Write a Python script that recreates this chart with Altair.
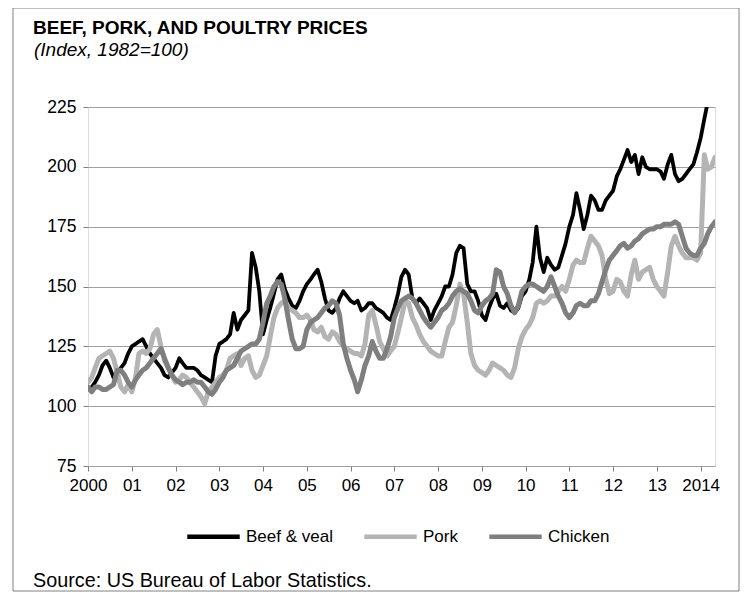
import altair as alt
import pandas as pd

# Monthly index values, Jan 2000 - May 2014 (1982=100)
months = pd.date_range("2000-01-01", periods=173, freq="MS").strftime("%Y-%m-%dT00:00:00").tolist()

beef = [
    107, 108, 110, 113, 117, 119, 116, 112, 113, 116, 118, 122,
    125, 126, 127, 128, 125, 122, 120, 118, 116, 113, 112, 114,
    116, 120, 118, 116, 116, 116, 115, 113, 112, 111, 110, 121,
    126, 127, 128, 130, 139, 132, 136, 138, 140, 164, 158, 148,
    130, 136, 141, 147, 153, 155, 149, 145, 142, 141, 144, 148,
    151, 153, 155, 157, 152, 145, 140, 139, 141, 145, 148, 146,
    144, 143, 144, 140, 141, 143, 143, 141, 140, 139, 137, 136,
    141, 147, 154, 157, 155, 145, 143, 145, 143, 141, 136, 140,
    143, 146, 150, 150, 155, 164, 167, 166, 151, 148, 148, 144,
    138, 136, 141, 145, 147, 142, 141, 143, 140, 139, 141, 146,
    148, 153, 160, 175, 162, 156, 162, 159, 157, 158, 163, 168,
    175, 180, 189, 182, 174, 180, 188, 186, 182, 182, 186, 188,
    190, 196, 199, 203, 207, 202, 205, 197, 204, 200, 199, 199,
    199, 198, 195, 201, 205, 197, 194, 195, 197, 199, 201, 206,
    212, 220, 227, 232, 236,
]

pork = [
    110, 112, 116, 120, 121, 122, 123, 120, 114, 108, 106, 109,
    106, 112, 122, 123, 122, 124, 130, 132, 125, 119, 116, 113,
    110, 111, 113, 112, 110, 108, 106, 104, 101, 106, 108, 110,
    112, 113, 115, 120, 121, 122, 117, 120, 121, 115, 112, 113,
    117, 121, 129, 137, 141, 143, 144, 141, 140, 139, 137, 137,
    138, 136, 132, 131, 133, 129, 128, 131, 130, 127, 125, 124,
    123, 122, 122, 121, 126, 138, 140, 134, 127, 124, 121, 123,
    125, 131, 137, 144, 143, 137, 134, 130, 127, 125, 123, 122,
    121, 121, 127, 133, 135, 142, 151, 147, 135, 122, 117, 115,
    114, 113, 115, 118, 117, 116, 115, 113, 112, 116, 124, 129,
    132, 134, 137, 143, 144, 143, 144, 146, 146, 148, 150, 148,
    153, 159, 161, 160, 160, 166, 171, 169, 167, 163, 153, 147,
    148, 153, 152, 148, 146, 155, 161, 153, 156, 157, 158, 153,
    150, 148, 146, 156, 167, 171, 167, 164, 162, 162, 162, 161,
    164, 205, 199, 200, 204,
]

chicken = [
    108, 106, 108, 108, 107, 107, 108, 109, 115, 115, 113, 110,
    108, 111, 113, 115, 116, 118, 120, 122, 124, 120, 116, 113,
    111, 110, 109, 110, 110, 111, 110, 110, 108, 106, 105, 107,
    110, 112, 115, 116, 117, 120, 123, 124, 125, 126, 126, 128,
    135, 143, 146, 150, 152, 151, 145, 136, 128, 124, 124, 125,
    132, 135, 136, 137, 139, 141, 142, 144, 143, 138, 126, 120,
    115, 111, 106, 111, 117, 121, 127, 123, 120, 120, 124, 129,
    137, 141, 144, 145, 146, 145, 143, 140, 137, 135, 133, 135,
    137, 140, 141, 143, 146, 148, 149, 148, 147, 144, 140, 139,
    142, 144, 145, 147, 157, 156, 150, 147, 142, 139, 142, 148,
    150, 151, 151, 150, 149, 148, 150, 154, 150, 146, 143, 139,
    137, 139, 142, 143, 142, 142, 144, 144, 147, 152, 157, 161,
    163, 165, 167, 168, 166, 167, 169, 170, 172, 173, 174, 174,
    175, 175, 176, 176, 176, 177, 176, 171, 166, 164, 163, 163,
    166, 168, 172, 175, 177,
]

series_names = ["Beef & veal", "Pork", "Chicken"]
series_colors = ["#000000", "#b4b4b4", "#7f7f7f"]
series_widths = [3.8, 5, 5]
series_values = [beef, pork, chicken]

y_ticks = [75, 100, 125, 150, 175, 200, 225]
year_ticks = list(range(2000, 2015))

title_text = "BEEF, PORK, AND POULTRY PRICES"
subtitle_text = "(Index, 1982=100)"
source_text = "Source: US Bureau of Labor Statistics."

FONT = "Liberation Sans"
W, H = 627, 359

color_scale = alt.Scale(domain=series_names, range=series_colors)
x_scale = alt.Scale(domain=[alt.DateTime(year=2000, month=1, date=1),
                            alt.DateTime(year=2014, month=5, date=1)])
y_scale = alt.Scale(domain=[75, 225], nice=False, zero=False)

x_axis = alt.Axis(
    title=None,
    values=[alt.DateTime(year=y, month=1, date=1) for y in year_ticks],
    labelExpr="(year(datum.value) == 2000 || year(datum.value) == 2014) ? timeFormat(datum.value, '%Y') : timeFormat(datum.value, '%y')",
    grid=False, domain=False, ticks=True, tickSize=5, tickColor="#808080",
    labelFont=FONT, labelFontSize=17, labelColor="#000000", labelPadding=6,
    labelFlush=False, labelOverlap=False,
)
y_axis = alt.Axis(
    title=None, values=y_ticks, grid=True, gridColor="#a0a0a0", gridWidth=1,
    domain=False, ticks=True, tickSize=5, tickColor="#808080",
    labelFont=FONT, labelFontSize=17.5, labelColor="#000000", labelPadding=7,
)
legend = alt.Legend(
    title=None, orient="none", legendX=97, legendY=401, direction="horizontal",
    symbolType="stroke", symbolSize=2750, symbolStrokeWidth=4.5,
    labelFont=FONT, labelFontSize=17, labelColor="#000000", labelOffset=4,
    columnPadding=22,
)

layers = []
for name, vals, w in zip(series_names, series_values, series_widths):
    df = pd.DataFrame({"date": months, "value": vals, "series": name})
    layers.append(
        alt.Chart(df).mark_line(strokeWidth=w, clip=True, strokeJoin="round", strokeCap="round").encode(
            x=alt.X("date:T", scale=x_scale, axis=x_axis),
            y=alt.Y("value:Q", scale=y_scale, axis=y_axis),
            color=alt.Color("series:N", scale=color_scale, legend=legend),
        )
    )

title = alt.Chart(pd.DataFrame({"t": [title_text]})).mark_text(
    align="left", baseline="alphabetic", font=FONT, fontSize=19, fontWeight="bold", color="#000000"
).encode(text="t:N", x=alt.value(-55), y=alt.value(-73))
subtitle = alt.Chart(pd.DataFrame({"t": [subtitle_text]})).mark_text(
    align="left", baseline="alphabetic", font=FONT, fontSize=19, fontStyle="italic", color="#000000"
).encode(text="t:N", x=alt.value(-54), y=alt.value(-51))
source = alt.Chart(pd.DataFrame({"t": [source_text]})).mark_text(
    align="left", baseline="alphabetic", font=FONT, fontSize=19.8, color="#000000"
).encode(text="t:N", x=alt.value(-55), y=alt.value(480))
frame = alt.Chart(pd.DataFrame({"t": [0]})).mark_rect(
    fill=None, fillOpacity=0, stroke="#808080", strokeWidth=1
).encode(x=alt.value(-75), x2=alt.value(W + 24), y=alt.value(-99), y2=alt.value(H + 125))

chart = alt.layer(frame, *layers, title, subtitle, source).properties(
    width=W, height=H,
    padding={"left": 80, "top": 99, "right": 25, "bottom": 126},
    autosize=alt.AutoSizeParams(type="none"),
).configure_view(
    stroke="#404040", strokeWidth=2
).configure(background="#ffffff")

chart.save("out.html", embed_options={"renderer": "svg", "actions": False})
